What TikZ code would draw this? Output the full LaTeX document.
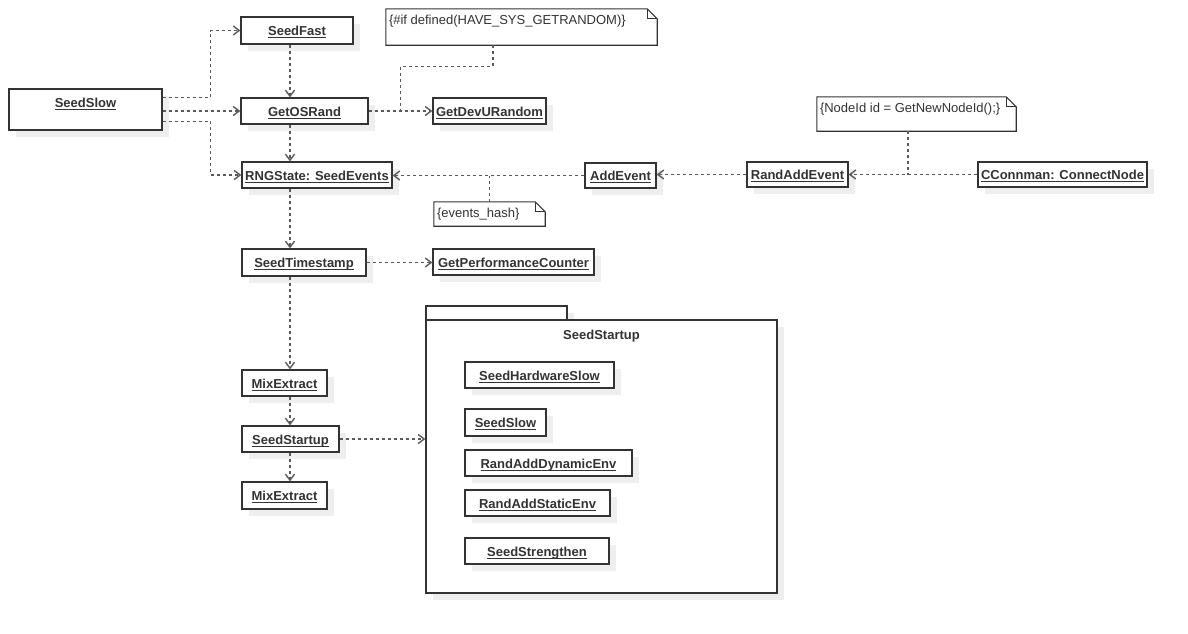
\documentclass[tikz,border=0pt]{standalone}
\usepackage{fontspec}
\setmainfont{Liberation Sans}
\usetikzlibrary{arrows.meta,shadows,calc}
\definecolor{boxline}{HTML}{333333}
\definecolor{depline}{HTML}{5A5A5A}
\definecolor{shadowgray}{HTML}{EEEEEE}
\newcommand\ulin[1]{\setbox0\hbox{#1}\rlap{\rule[-2.6pt]{\wd0}{1pt}}\box0}
\newcommand\objbox[6]{\node[obj, minimum width={(#4-#2)*1pt}, minimum height={(#5-#3)*1pt}] (#1) at ({(#2+#4)/2},{(#3+#5)/2}) {\ulin{#6}};}
\newcommand\notebox[6]{%
  \node[minimum width={(#4-#2)*1pt}, minimum height={(#5-#3)*1pt}, inner sep=0pt] (#1) at ({(#2+#4)/2},{(#3+#5)/2}) {};
  \draw[noteborder] (#1.north west) -- ([xshift=-10pt]#1.north east) -- ([yshift=-10pt]#1.north east) -- (#1.south east) -- (#1.south west) -- cycle;
  \draw[noteborder] ([xshift=-10pt]#1.north east) |- ([yshift=-10pt]#1.north east);
  \node[notetext, anchor=base west] (#1text) at ($(#1.north west)+(3,16)$) {#6};}
\begin{document}
\begin{tikzpicture}[x=1pt,y=-1pt,
  every node/.style={font=\fontsize{13pt}{15pt}\selectfont},
  shadowed/.style={general shadow={fill=shadowgray, draw=none, shadow xshift=7pt, shadow yshift=-7pt}},
  obj/.style={draw=boxline, line width=1.3pt, fill=white, inner sep=0pt, shadowed,
    text height=11.5pt, text depth=1.5pt, font=\fontsize{13pt}{15pt}\selectfont\bfseries, text=black!80},
  noteborder/.style={draw=boxline, line width=1.1pt, line join=miter},
  notetext/.style={inner sep=0pt, text=black!80},
  dep/.style={draw=depline, line width=1.4pt, dash pattern=on 3pt off 3pt, -{Straight Barb[length=6pt,width=9pt]}},
  noteln/.style={draw=depline, line width=1.4pt, dash pattern=on 3pt off 3pt},
  pkgpart/.style={draw=boxline, line width=1.3pt, fill=white, inner sep=0pt, shadowed}
]
\path[use as bounding box, fill=white] (0,0) rectangle (1188,633);

% package
\node[pkgpart, minimum width=141pt, minimum height=14pt] (pkgtab) at (496.5,313) {};
\node[pkgpart, minimum width=351pt, minimum height=273pt] (pkg) at (601.5,456.5) {};
\node[anchor=base, inner sep=0pt, font=\fontsize{13pt}{15pt}\selectfont\bfseries, text=black!80] (pkgtitle) at (601.5,339) {SeedStartup};

% main column
\node[obj, minimum width=153pt, minimum height=41pt, text height=18pt, text depth=23pt] (seedslow) at (85.5,109.5) {\ulin{SeedSlow}};
\objbox{seedfast}{241}{17}{353}{44}{SeedFast}
\objbox{getosrand}{241}{98}{368}{124}{GetOSRand}
\objbox{rngstate}{242}{162}{392}{188}{RNGState: SeedEvents}
\objbox{getdev}{433}{98}{546}{124}{GetDevURandom}
\objbox{addevent}{585}{163}{656}{188}{AddEvent}
\objbox{randaddevent}{747}{162}{848}{187}{RandAddEvent}
\objbox{cconn}{978}{162}{1147}{187}{CConnman: ConnectNode}
\objbox{seedts}{242}{249}{366}{276}{SeedTimestamp}
\objbox{getperf}{433}{249}{594}{275}{GetPerformanceCounter}
\objbox{mixa}{242}{370}{327}{396}{MixExtract}
\objbox{seedstartup}{242}{426}{339}{452}{SeedStartup}
\objbox{mixb}{242}{482}{327}{509}{MixExtract}

% inside package
\objbox{hwslow}{465}{362}{614}{388}{SeedHardwareSlow}
\objbox{seedslowb}{465}{409}{546}{436}{SeedSlow}
\objbox{dynenv}{465}{450}{632}{476}{RandAddDynamicEnv}
\objbox{statenv}{465}{490}{610}{516}{RandAddStaticEnv}
\objbox{strengthen}{465}{538}{609}{564}{SeedStrengthen}

% notes
\notebox{noteA}{386}{9}{657}{45}{\{\#if defined(HAVE\_SYS\_GETRANDOM)\}}
\notebox{noteB}{434}{202}{545}{226}{\{events\_hash\}}
\notebox{noteC}{817}{97}{1016}{131}{\{NodeId id = GetNewNodeId();\}}

% connectors
\coordinate (colx) at (290,0);
\draw[dep] ($(seedslow.north east)+(0,9)$) -- ++(48,0) |- (seedfast.west);
\draw[dep] (seedslow.east |- getosrand.west) -- (getosrand.west);
\draw[dep] ($(seedslow.north east)+(0,33)$) -- ++(48,0) |- (rngstate.west);
\draw[dep] (seedfast.south -| colx) -- (getosrand.north -| colx);
\draw[dep] (getosrand.south -| colx) -- (rngstate.north -| colx);
\draw[dep] (rngstate.south -| colx) -- (seedts.north -| colx);
\draw[dep] (seedts.south -| colx) -- (mixa.north -| colx);
\draw[dep] (mixa.south -| colx) -- (seedstartup.north -| colx);
\draw[dep] (seedstartup.south -| colx) -- (mixb.north -| colx);
\draw[dep] (getosrand.east) -- (getdev.west);
\draw[dep] (seedts.east) -- (seedts.east -| getperf.west);
\draw[dep] (seedstartup.east) -- (seedstartup.east -| pkg.west);
\draw[dep] (addevent.west) -- (addevent.west -| rngstate.east);
\draw[dep] (randaddevent.west) -- (randaddevent.west -| addevent.east);
\draw[dep] (cconn.west) -- (cconn.west -| randaddevent.east);

\coordinate (noteAend) at ($(getosrand.east)!0.5!(getdev.west)$);
\draw[noteln] ([xshift=-28.5pt]noteA.south) -- ++(0,21) -| (noteAend);
\draw[noteln] (noteB.north) -- (noteB.north |- addevent.west);
\draw[noteln] ([xshift=-8.5pt]noteC.south) -- ([xshift=-8.5pt]noteC.south |- cconn.west);
\end{tikzpicture}
\end{document}
